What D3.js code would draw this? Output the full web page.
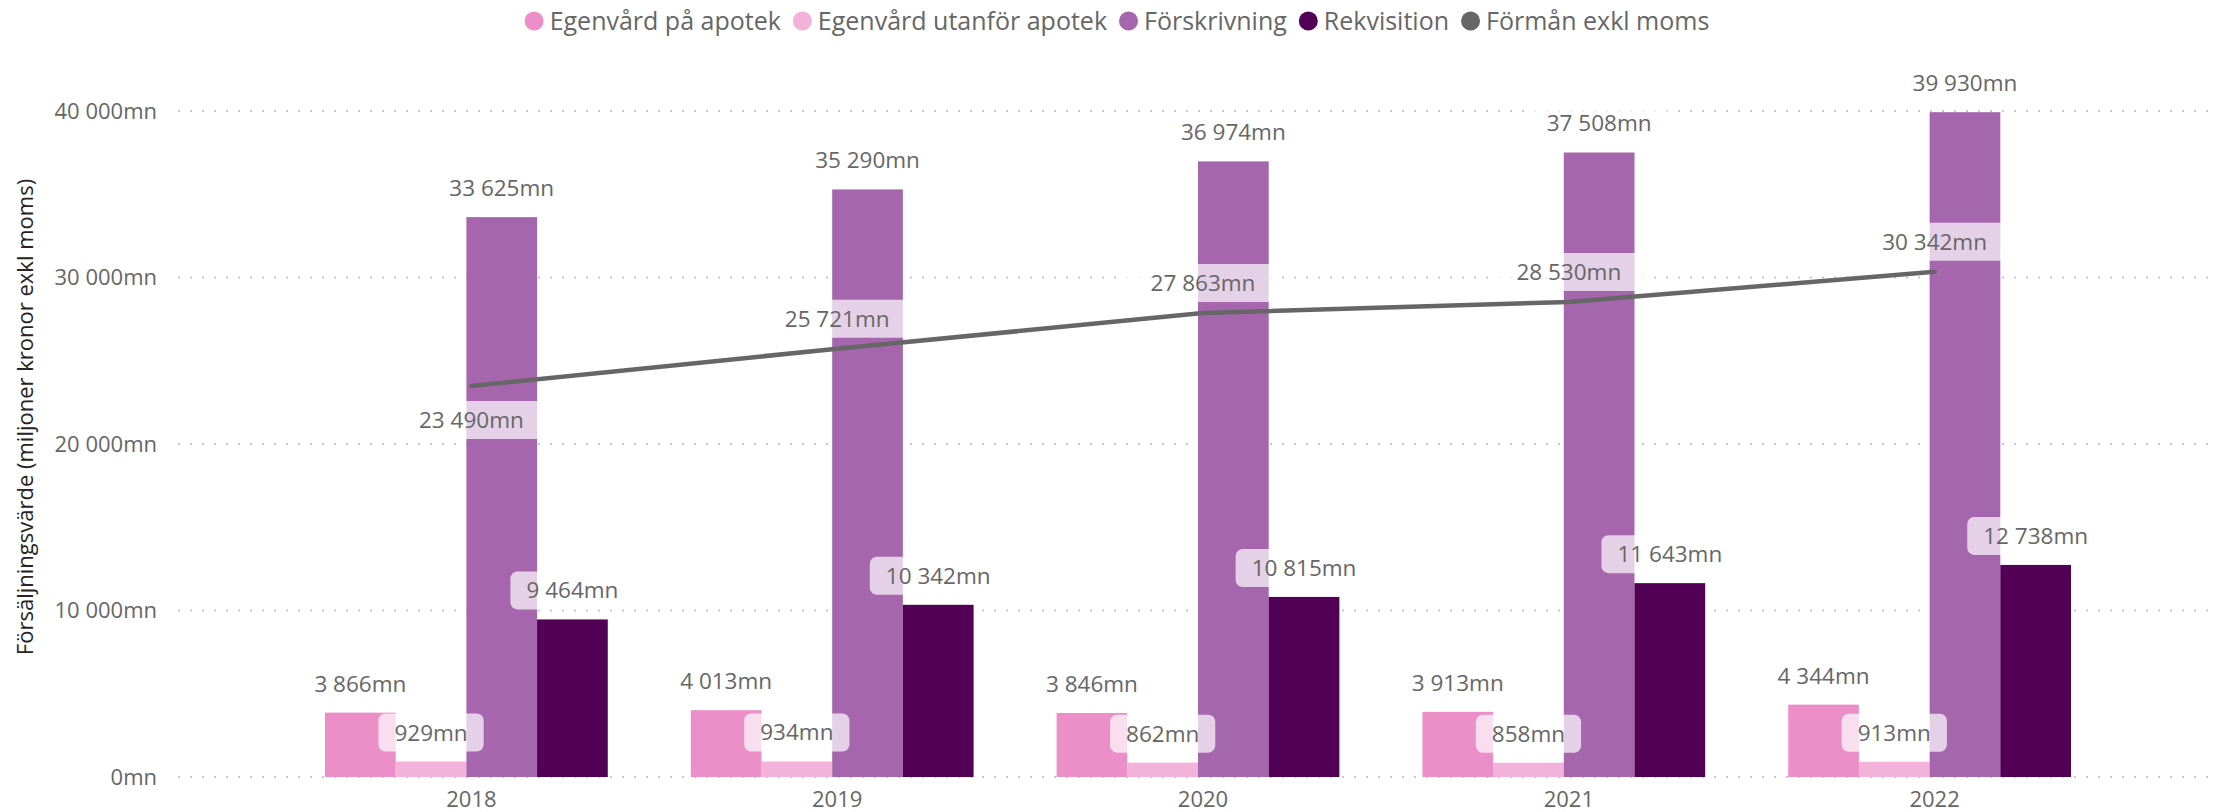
<html>
<head>
<meta charset="utf-8">
<title>Försäljningsvärde</title>
<style>
body {
	margin: 0;
	background: #fff;
	font-family: 'Open Sans', sans-serif;
}
svg {
	display: block;
}
</style>
</head>
<body>
<script src="https://d3js.org/d3.v7.min.js"></script>
<script>
// Data (miljoner kronor)
const years = ["2018", "2019", "2020", "2021", "2022"];
const barSeries = ["Egenvård på apotek", "Egenvård utanför apotek", "Förskrivning", "Rekvisition"];
const egenvardApotek = [3866, 4013, 3846, 3913, 4344];
const egenvardUtanfor = [929, 934, 862, 858, 913];
const forskrivning = [33625, 35290, 36974, 37508, 39930];
const rekvisition = [9464, 10342, 10815, 11643, 12738];
const lineSeries = "Förmån exkl moms";
const forman = [23490, 25721, 27863, 28530, 30342];
const yTicks = [0, 10000, 20000, 30000, 40000];
const yTitle = "Försäljningsvärde (miljoner kronor exkl moms)";

const barValues = [egenvardApotek, egenvardUtanfor, forskrivning, rekvisition];
const barColors = ["#ec8fc8", "#f2b2da", "#a666ad", "#510055"];
const lineColor = "#666666";
// Power BI put the first line label under the point
const lineLabelBelow = [true, false, false, false, false];

const W = 2214, H = 812;
const svg = d3.select("body").append("svg").attr("width", W).attr("height", H);

const x = d3.scaleBand().domain(years).range([325, 2071]).paddingInner(0.227);
const xs = d3.scaleBand().domain(barSeries).range([0, x.bandwidth()]);
const y = d3.scaleLinear().domain([0, 40000]).range([777, 111]);
// category centre used by the line, its labels and the x labels sits a bit right of the bar group
const shift = 5;
const xc = d => x(d) + x.bandwidth() / 2 + shift;

const sv = d3.formatLocale({decimal: ",", thousands: " ", grouping: [3], currency: ["", ""]});
const fmt = v => sv.format(",d")(v) + "mn";

// dotted grid lines
svg.append("g")
	.selectAll("line")
	.data(yTicks)
	.join("line")
	.attr("x1", 178)
	.attr("x2", 2212)
	.attr("y1", d => y(d))
	.attr("y2", d => y(d))
	.attr("stroke", "#c8c8c8")
	.attr("stroke-width", 2)
	.attr("stroke-dasharray", "2,10");

// y axis labels
const yAxis = svg.append("g")
	.attr("transform", "translate(157,0)")
	.call(d3.axisLeft(y).tickValues(yTicks).tickFormat(fmt).tickSize(0).tickPadding(0));
yAxis.select(".domain").remove();
yAxis.selectAll("text")
	.attr("font-family", "Open Sans")
	.attr("font-size", 22)
	.attr("fill", "#666");

// y axis title
svg.append("text")
	.attr("transform", "translate(33,417) rotate(-90)")
	.attr("text-anchor", "middle")
	.attr("font-size", 22)
	.attr("fill", "#252423")
	.text(yTitle);

// x axis labels
const xAxis = svg.append("g")
	.attr("transform", "translate(" + shift + ",777)")
	.call(d3.axisBottom(x).tickSize(0).tickPadding(14));
xAxis.select(".domain").remove();
xAxis.selectAll("text")
	.attr("font-family", "Open Sans")
	.attr("font-size", 22)
	.attr("fill", "#666");

// bars
barSeries.forEach(function(name, i) {
	svg.append("g")
		.attr("fill", barColors[i])
		.selectAll("rect")
		.data(years)
		.join("rect")
		.attr("x", d => x(d) + xs(name))
		.attr("width", xs.bandwidth())
		.attr("y", (d, j) => y(barValues[i][j]))
		.attr("height", (d, j) => y(0) - y(barValues[i][j]));
});

// line
const line = d3.line()
	.x((d, j) => xc(years[j]))
	.y(d => y(d));
svg.append("path")
	.datum(forman)
	.attr("d", line)
	.attr("fill", "none")
	.attr("stroke", lineColor)
	.attr("stroke-width", 4.5)
	.attr("stroke-linecap", "round")
	.attr("stroke-linejoin", "round");

// data labels: collect centres first
let labels = [];
barSeries.forEach(function(name, i) {
	years.forEach(function(yr, j) {
		labels.push({
			cx: x(yr) + xs(name) + xs.bandwidth() / 2,
			cy: y(barValues[i][j]) - 29,
			text: fmt(barValues[i][j]),
			pad: 16
		});
	});
});
years.forEach(function(yr, j) {
	labels.push({
		cx: xc(yr),
		cy: lineLabelBelow[j] ? y(forman[j]) + 34 : y(forman[j]) - 30,
		text: fmt(forman[j]),
		pad: 26
	});
});

const boxLayer = svg.append("g");
const textLayer = svg.append("g");

textLayer.selectAll("text")
	.data(labels)
	.join("text")
	.attr("x", d => d.cx)
	.attr("y", d => d.cy + 8)
	.attr("text-anchor", "middle")
	.attr("font-size", 22.5)
	.attr("fill", "#666")
	.text(d => d.text)
	.each(function(d) { d.w = this.getComputedTextLength(); });

boxLayer.selectAll("rect")
	.data(labels)
	.join("rect")
	.attr("x", d => d.cx - d.w / 2 - d.pad)
	.attr("y", d => d.cy - 19)
	.attr("width", d => d.w + 2 * d.pad)
	.attr("height", 38)
	.attr("rx", 7)
	.attr("fill", "#fff")
	.attr("fill-opacity", 0.7);

// legend
const legendItems = barSeries.map((n, i) => ({name: n, color: barColors[i]}))
	.concat([{name: lineSeries, color: lineColor}]);
const legend = svg.append("g");
let lx = 0;
legendItems.forEach(function(it) {
	const g = legend.append("g").attr("transform", "translate(" + lx + ",0)");
	g.append("circle").attr("cx", 9.5).attr("cy", 21).attr("r", 9.5).attr("fill", it.color);
	const t = g.append("text")
		.attr("x", 25)
		.attr("y", 30)
		.attr("font-size", 25)
		.attr("fill", "#666")
		.text(it.name);
	lx += 25 + t.node().getComputedTextLength() + 12;
});
const legendW = lx - 12;
legend.attr("transform", "translate(" + (1117 - legendW / 2) + ",0)");
</script>
</body>
</html>
